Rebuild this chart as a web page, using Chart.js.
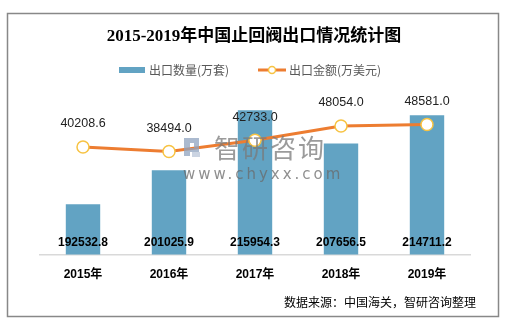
<!DOCTYPE html>
<html>
<head>
<meta charset="utf-8">
<script src="https://cdn.jsdelivr.net/npm/chart.js@4.4.1/dist/chart.umd.min.js"></script>
<style>
  html, body { margin: 0; padding: 0; background: #fff; }
  #wrap { width: 510px; height: 325px; position: relative; }
</style>
</head>
<body>
<div id="wrap"><canvas id="chart" width="510" height="325"></canvas></div>
<script>
/* ========================= */
/* DATOS */
/* ========================= */

const years = ["2015年", "2016年", "2017年", "2018年", "2019年"];

const qtyValues = [192532.8, 201025.9, 215954.3, 207656.5, 214711.2];

const amountValues = [40208.6, 38494.0, 42733.0, 48054.0, 48581.0];

const qtyLabel = "出口数量(万套)";
const amountLabel = "出口金额(万美元)";

const titleText = "2015-2019年中国止回阀出口情况统计图";
const sourceText = "数据来源：中国海关，智研咨询整理";

const BAR_COLOR = "#62a3c3";
const LINE_COLOR = "#ed7d31";
const POINT_BORDER = "#f7c343";

const CJK = "'Noto Sans CJK SC'";

/* ========================= */
/* PLUGIN: marco, titulo, leyenda, etiquetas */
/* ========================= */

const decorPlugin = {
  id: "decor",
  beforeDraw(chart){
    const ctx = chart.ctx;
    ctx.save();
    ctx.fillStyle = "#fff";
    ctx.fillRect(0, 0, chart.width, chart.height);
    ctx.restore();
  },
  afterDraw(chart){
    const ctx = chart.ctx;
    ctx.save();

    // watermark
    ctx.globalAlpha = 0.75;
    ctx.fillStyle = "#8fa3bf";
    ctx.fillRect(184, 138, 6, 18);
    ctx.fillRect(190, 138, 9, 5);
    ctx.fillRect(194, 143, 5, 5);
    ctx.fillRect(190, 148, 9, 4);
    ctx.fillStyle = "#b9c6d8";
    ctx.fillRect(192, 152, 8, 5);
    ctx.fillStyle = "#7a7a7a";
    ctx.font = "26px " + CJK;
    ctx.textAlign = "left";
    ctx.textBaseline = "middle";
    ctx.letterSpacing = "2px";
    ctx.fillText("智研咨询", 214, 148);
    ctx.fillStyle = "#6a6a6a";
    ctx.font = "15px 'DejaVu Sans', sans-serif";
    ctx.letterSpacing = "3px";
    ctx.fillText("www.chyxx.com", 183, 175);
    ctx.letterSpacing = "0px";
    ctx.globalAlpha = 1;

    // bar labels
    const yScale = chart.scales.y;
    const baseY = yScale.getPixelForValue(yScale.min);
    const barMeta = chart.getDatasetMeta(0);
    ctx.font = "bold 12px 'Liberation Sans', Arial, sans-serif";
    ctx.fillStyle = "#000";
    ctx.textAlign = "center";
    ctx.textBaseline = "middle";
    barMeta.data.forEach((el, i) => {
      ctx.fillText(qtyValues[i].toFixed(1), el.x, baseY - 12);
    });

    // line labels
    const lineMeta = chart.getDatasetMeta(1);
    ctx.font = "12.5px 'Liberation Sans', Arial, sans-serif";
    ctx.fillStyle = "#222";
    lineMeta.data.forEach((el, i) => {
      ctx.fillText(amountValues[i].toFixed(1), el.x, el.y - 23);
    });

    // border
    ctx.strokeStyle = "#888";
    ctx.lineWidth = 1.5;
    ctx.strokeRect(7.5, 13.5, 491, 303);

    // title
    ctx.fillStyle = "#000";
    ctx.font = "bold 17px 'Liberation Serif', " + CJK + ", serif";
    ctx.textAlign = "center";
    ctx.fillText(titleText, 254, 37);

    // legend
    ctx.font = "12px " + CJK;
    ctx.textAlign = "left";
    ctx.fillStyle = BAR_COLOR;
    ctx.fillRect(119, 67, 26, 6);
    ctx.fillStyle = "#595959";
    ctx.fillText(qtyLabel, 149, 70);

    ctx.strokeStyle = LINE_COLOR;
    ctx.lineWidth = 3;
    ctx.beginPath();
    ctx.moveTo(258, 70);
    ctx.lineTo(286, 70);
    ctx.stroke();
    ctx.beginPath();
    ctx.arc(272, 70, 3.5, 0, Math.PI * 2);
    ctx.fillStyle = "#fff";
    ctx.fill();
    ctx.strokeStyle = POINT_BORDER;
    ctx.lineWidth = 1.5;
    ctx.stroke();
    ctx.fillStyle = "#595959";
    ctx.fillText(amountLabel, 289, 70);

    // source
    ctx.fillStyle = "#000";
    ctx.font = "12px " + CJK;
    ctx.textAlign = "right";
    ctx.fillText(sourceText, 476, 302);

    ctx.restore();
  }
};

/* ========================= */
/* CHART */
/* ========================= */

const chart = new Chart(
document.getElementById("chart"),
{
  type: 'bar',
  data: {
    labels: years,
    datasets: [{
      type: 'bar',
      label: qtyLabel,
      data: qtyValues,
      backgroundColor: BAR_COLOR,
      yAxisID: 'y',
      barPercentage: 0.4,
      categoryPercentage: 1,
      order: 2
    },{
      type: 'line',
      label: amountLabel,
      data: amountValues,
      borderColor: LINE_COLOR,
      borderWidth: 3,
      tension: 0,
      pointRadius: 6,
      pointBackgroundColor: "#fff",
      pointBorderColor: POINT_BORDER,
      pointBorderWidth: 1.5,
      yAxisID: 'y1',
      order: 1
    }]
  },
  options: {
    responsive: false,
    animation: false,
    devicePixelRatio: 1,
    layout: {
      padding: { top: 94, left: 40, right: 40, bottom: 30 }
    },
    plugins: {
      legend: { display: false },
      title: { display: false },
      tooltip: { enabled: false }
    },
    scales: {
      x: {
        grid: { display: false, drawTicks: false },
        border: { display: true, color: "#d9d9d9", width: 1.5 },
        ticks: {
          padding: 13,
          color: "#000",
          font: { family: "'Liberation Sans', " + CJK, size: 12, weight: 'bold' }
        }
      },
      y: {
        display: false,
        min: 180000,
        max: 220000
      },
      y1: {
        display: false,
        position: 'right',
        min: 0,
        max: 60000
      }
    }
  },
  plugins: [decorPlugin]
});
</script>
</body>
</html>
